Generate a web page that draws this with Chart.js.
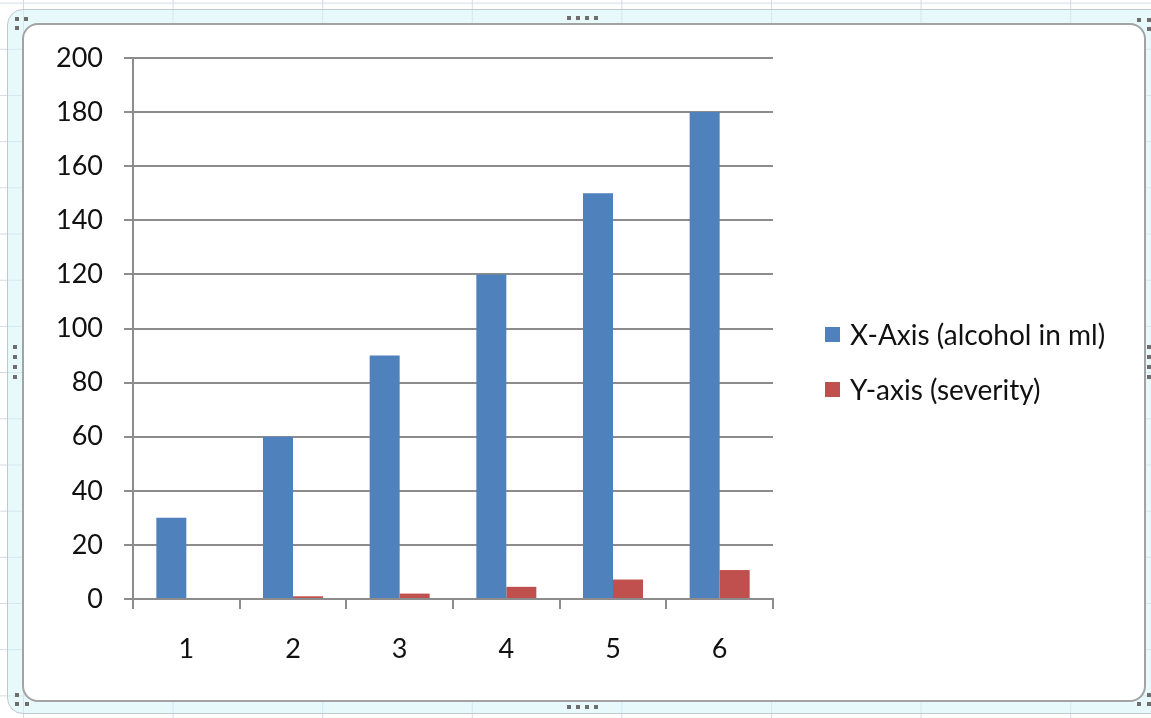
<!DOCTYPE html>
<html>
<head>
<meta charset="utf-8">
<title>Alcohol vs severity</title>
<script src="https://cdn.jsdelivr.net/npm/chart.js@4.4.1/dist/chart.umd.min.js"></script>
<style>
  html, body { margin: 0; padding: 0; }
  body {
    width: 1151px; height: 718px; overflow: hidden; position: relative;
    background-color: #fff;
    background-image:
      linear-gradient(to right, #d3dae6 1px, transparent 1px),
      linear-gradient(to bottom, #d3dae6 1px, transparent 1px);
    background-size: 149.6px 46.2px;
    background-position: 23px 2.6px;
  }
  /* embedded chart object: selection band + white plot frame */
  #band {
    position: absolute; left: 7px; top: 9px; width: 1160px; height: 705px;
    box-sizing: border-box; border: 1px solid #c3c8cf; border-radius: 16px;
    background: rgba(212, 244, 248, 0.55);
  }
  #frame {
    position: absolute; left: 22px; top: 23px; width: 1124px; height: 679px;
    box-sizing: border-box; border: 2px solid #a3a3a3; border-radius: 16px;
    background: #fff;
  }
  .h { position: absolute; width: 4px; height: 4px; background: #6e6e6e; }
  #wrap { position: absolute; left: 0; top: 0; width: 1151px; height: 718px; }
  #legend {
    position: absolute; left: 825px; top: 321px;
    font-family: Lato, "Open Sans", sans-serif; font-size: 28px; color: #111;
  }
  #legend .item { display: flex; align-items: center; height: 27px; line-height: 27px; margin-bottom: 28px; white-space: nowrap; }
  #legend .swatch { width: 15px; height: 15px; margin-right: 10px; flex: none; }
</style>
</head>
<body>
<div id="band"></div>
<div id="frame"></div>
<div id="handles"></div>
<div id="wrap"><canvas id="chart" width="1151" height="718"></canvas></div>
<div id="legend"></div>
<script>
const categories = ['1', '2', '3', '4', '5', '6'];
const alcoholMl = [30, 60, 90, 120, 150, 180];
const severity = [0, 1, 2, 4.5, 7.2, 10.7];
const seriesNames = ['X-Axis (alcohol in ml)', 'Y-axis (severity)'];
const seriesColors = ['#4f81bd', '#c0504d'];
const yTicks = [0, 20, 40, 60, 80, 100, 120, 140, 160, 180, 200];

// resize handles around the selected chart object
const handleSpots = [
  [15, 17], [24, 17], [15, 26],
  [1137, 18], [1147, 18], [1147, 27],
  [15, 693], [15, 702], [25, 702],
  [1137, 702], [1147, 693], [1147, 702],
  [567, 16], [576, 16], [585, 16], [594, 16],
  [567, 705], [576, 705], [585, 705], [594, 705],
  [13, 345], [13, 355], [13, 365], [13, 375],
  [1147, 345], [1147, 355], [1147, 365], [1147, 375]
];
const hbox = document.getElementById('handles');
handleSpots.forEach(([x, y]) => {
  const d = document.createElement('div');
  d.className = 'h';
  d.style.left = x + 'px';
  d.style.top = y + 'px';
  hbox.appendChild(d);
});

Chart.defaults.font.family = 'Lato, "Open Sans", sans-serif';
Chart.defaults.font.size = 27;
Chart.defaults.color = '#111';

const axisGray = '#8c8c8c';

const chart = new Chart(document.getElementById('chart'), {
  type: 'bar',
  data: {
    labels: categories,
    datasets: [
      { label: seriesNames[0], data: alcoholMl, backgroundColor: seriesColors[0] },
      { label: seriesNames[1], data: severity, backgroundColor: seriesColors[1] },
    ],
  },
  options: {
    responsive: false,
    animation: false,
    barPercentage: 1,
    categoryPercentage: 0.5625,
    layout: { padding: { top: 58, right: 378, bottom: 0, left: 0 } },
    plugins: {
      tooltip: { enabled: false },
      legend: { display: false },
    },
    scales: {
      x: {
        grid: { offset: true, drawOnChartArea: false, color: axisGray, lineWidth: 2, tickLength: 10 },
        border: { color: axisGray, width: 2 },
        ticks: { padding: 24, maxRotation: 0 },
        afterFit(scale) { scale.height = 119; },
      },
      y: {
        min: 0,
        max: 200,
        afterBuildTicks(scale) { scale.ticks = yTicks.map(v => ({ value: v })); },
        grid: { color: axisGray, lineWidth: 2, tickLength: 9 },
        border: { color: axisGray, width: 2 },
        ticks: { padding: 21 },
        afterFit(scale) { scale.width = 133; },
      },
    },
  },
});

// legend sits to the right of the plot, built from the datasets
const legendEl = document.getElementById('legend');
chart.data.datasets.forEach(ds => {
  const item = document.createElement('div');
  item.className = 'item';
  const sw = document.createElement('span');
  sw.className = 'swatch';
  sw.style.background = ds.backgroundColor;
  const txt = document.createElement('span');
  txt.textContent = ds.label;
  item.appendChild(sw);
  item.appendChild(txt);
  legendEl.appendChild(item);
});
</script>
</body>
</html>
